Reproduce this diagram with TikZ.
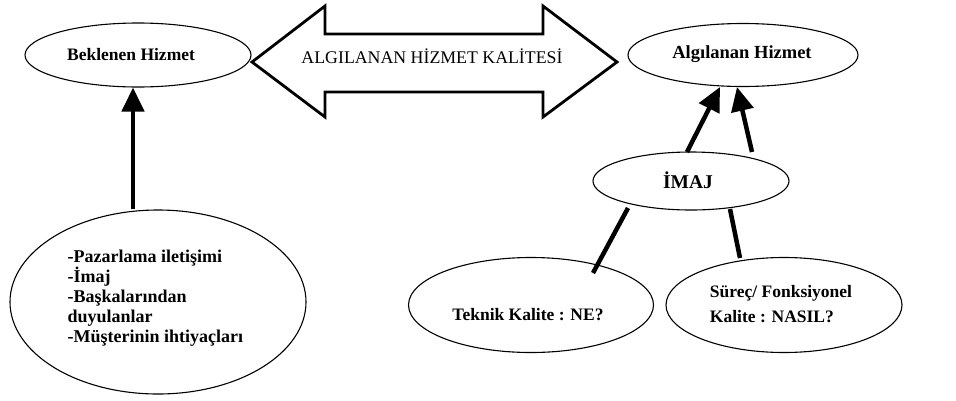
\documentclass[tikz,border=0pt]{standalone}
\usepackage{fontspec}
\setmainfont{Liberation Serif}
\usetikzlibrary{shapes.geometric,arrows.meta}
\begin{document}
\begin{tikzpicture}[x=1pt,y=-1pt,
  oval/.style={ellipse,draw,line width=1.1pt,inner sep=0pt},
  lbl/.style={font=\fontsize{17.5}{21}\selectfont\bfseries},
  thickarrow/.style={line width=4.5pt,-{Triangle[length=24pt,width=22pt]}},
  thickline/.style={line width=4.5pt}]
\useasboundingbox (0,0) rectangle (956,400);

% expectations and perception
\node[oval,minimum width=226pt,minimum height=64pt] (bek) at (138,55) {};
\node[lbl] (bektxt) at (131,55) {Beklenen Hizmet};
\node[oval,minimum width=230pt,minimum height=63pt] (alg) at (743,55) {};
\node[lbl,font=\fontsize{18.5}{21}\selectfont\bfseries] (algtxt) at (742,54) {Algılanan Hizmet};

% two-headed block arrow between them
\draw[line width=2.8pt,line join=miter]
  (252,62) -- (325,6) -- (325,34) -- (543,34) -- (543,6) -- (617,62)
  -- (543,117) -- (543,92) -- (325,92) -- (325,117) -- cycle;
\node[font=\fontsize{17.8}{21}\selectfont] (kal) at (432,56) {ALGILANAN HİZMET KALİTESİ};

% sources of expectation
\node[oval,minimum width=296pt,minimum height=184pt] (kay) at (158,302) {};
\node[align=left,anchor=north west,font=\fontsize{18}{20}\selectfont\bfseries] (kaytxt) at (64,246)
  {-Pazarlama iletişimi\\-İmaj\\-Başkalarından\\duyulanlar\\-Müşterinin ihtiyaçları};

% image and quality dimensions
\node[oval,minimum width=196pt,minimum height=58pt] (imaj) at (691,181) {};
\node[lbl,font=\fontsize{19.5}{21}\selectfont\bfseries] (imajtxt) at (688,180) {İMAJ};
\node[oval,minimum width=245pt,minimum height=95pt] (tek) at (531,305) {};
\node[lbl] (tektxt) at (528,315) {Teknik Kalite : NE?};
\node[oval,minimum width=236pt,minimum height=95pt] (sur) at (784,305) {};
\node[lbl,align=left,font=\fontsize{17.5}{25}\selectfont\bfseries] (surtxt) at (781,304) {Süreç/ Fonksiyonel\\Kalite : NASIL?};

% connectors
\draw[thickarrow] (kay.north -| 133,0) -- (bek.south -| 133,0);
\draw[thickarrow] (687,152) -- (720,87);
\draw[thickarrow] (752,152) -- (737,87);
\draw[thickline] (593,273) -- (628,208);
\draw[thickline] (740,258) -- (730,209);
\end{tikzpicture}
\end{document}
